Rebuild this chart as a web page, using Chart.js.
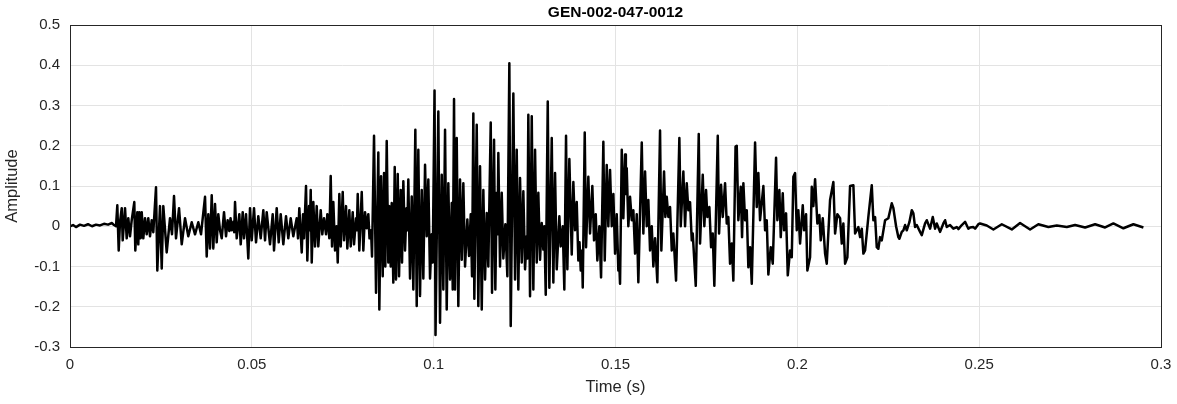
<!DOCTYPE html>
<html>
<head>
<meta charset="utf-8">
<script src="https://cdn.jsdelivr.net/npm/chart.js@4.4.1/dist/chart.umd.min.js"></script>
<style>
html,body{margin:0;padding:0;background:#fff;}
#wrap{width:1177px;height:404px;}
</style>
</head>
<body>
<div id="wrap"><canvas id="c" width="1177" height="404"></canvas></div>
<script>
// ---- data (time in seconds, amplitude) ----
const chartTitle = 'GEN-002-047-0012';
const xTickValues = [0, 0.05, 0.1, 0.15, 0.2, 0.25, 0.3];
const yTickValues = [-0.3, -0.2, -0.1, 0, 0.1, 0.2, 0.3, 0.4, 0.5];

const onsetTime = [0,0.00083,0.00165,0.00275,0.00385,0.00495,0.00605,0.00715,0.00825,0.00935,0.01045,0.01155,0.0121,
0.01265,0.01301,0.01339,0.01375,0.01422,0.01449,0.01513,0.01559,0.01603,0.0165,0.01697,0.01768,0.01796,0.01851,0.01878,0.01906,0.01944,0.01972,0.02016,0.02063,0.02109,0.02153,0.022,0.02247,0.02291,
0.02365,0.02401,0.02475,0.02522,0.02566,0.02659,0.0275,0.02805,0.0286,0.02915,0.02998,0.03072,0.03163,0.03253,0.03347,0.03438,0.03528,
0.03603,0.03644,0.03713,0.03759,0.03803,0.0385,0.03897,0.03941,0.03988,0.04034,0.04078,0.04125,0.04172,0.04235,0.0429,0.04335,0.04381,0.04415,0.04447,0.04495,0.04515,
0.04538,0.04584,0.04656,0.04694,0.04749,0.04785,0.0484,0.04903,0.0495,0.04997,0.0506,0.05115,0.05178,0.05244,0.05316,0.05363,0.05409,0.055,0.05574,0.0561,0.05684,0.05739,0.05794,0.05866,0.0594,0.06003,0.06069,0.06141,0.06234,0.0627,0.06306,
0.06372,0.06408,0.06435,0.0649,0.06526,0.06573,0.06595,0.06619,0.06647,0.06691,0.06738,0.06784,0.06828,0.06894,0.06938,0.06985,0.0704,0.07076,0.07131,0.07169,0.07205,0.07241,0.07288,0.07329,0.07362,0.07406,0.07444,0.07499,0.07535,0.0759,0.07626,0.07681,0.07719,0.07774,0.0781,0.07865,0.07887,0.07912,0.07956,0.08022,0.08066,0.08113,0.08159,0.08203,0.08236,0.08278,0.08305];
const onsetAmp = [0,0.003,-0.002,0.004,0.001,0.005,0.0,0.004,0.002,0.006,0.004,0.008,0.003,
0.0,0.052,-0.06,0.01,0.045,-0.035,0.045,-0.03,0.02,-0.025,0.015,0.06,-0.06,0.035,-0.045,0.035,-0.03,0.035,-0.03,0.02,-0.02,0.02,-0.025,0.015,-0.015,
0.097,-0.11,0.05,-0.105,0.05,-0.065,0.02,-0.02,0.075,-0.03,0.045,-0.045,0.02,-0.025,0.01,-0.02,0.01,
-0.02,0.015,0.073,-0.075,0.03,-0.055,0.077,-0.055,0.055,-0.04,0.03,-0.01,-0.03,0.035,-0.025,0.015,-0.012,0.02,-0.01,0.012,-0.015,
0.06,-0.03,0.03,-0.045,0.035,-0.03,0.03,-0.08,0.045,-0.035,0.045,-0.04,0.025,-0.03,0.04,-0.035,0.035,-0.045,0.03,-0.06,0.045,-0.04,0.03,-0.045,0.025,-0.03,0.02,-0.025,0.02,-0.03,0.045,
-0.065,0.03,-0.03,0.1,-0.085,0.05,-0.01,0.09,-0.09,0.06,-0.05,0.05,-0.05,0.04,-0.02,0.02,-0.02,0.03,-0.03,0.125,-0.05,0.06,-0.06,0.0,-0.09,0.08,-0.05,0.085,-0.035,0.05,-0.055,0.04,-0.05,0.035,-0.045,0.02,-0.01,0.08,-0.06,0.085,-0.06,0.035,-0.005,0.03,-0.03,-0.01,-0.075];

const voicedTime = [0.0836,0.08415,0.08478,0.08506,0.08553,0.08599,0.08635,0.08671,0.08709,0.08753,0.08781,0.08819,0.08847,0.08891,0.08929,0.08965,0.09012,0.09048,0.09094,0.0913,0.09166,0.09213,0.09254,0.09276,0.09303,0.0935,0.09397,0.09441,
0.09496,0.09534,0.09578,0.09625,0.09672,0.09716,0.09763,0.09809,0.09853,0.099,0.09947,0.09974,
0.10024,0.10051,0.10128,0.10175,0.10222,0.10266,0.10313,0.10359,0.10403,0.1045,0.10497,0.10524,
0.1056,0.10588,0.10634,0.10678,0.10725,0.10772,0.10816,0.10863,0.10926,0.10973,0.11019,0.11055,
0.11091,0.11118,0.11184,0.11228,0.11275,0.11322,0.11366,0.11413,0.11459,0.11503,
0.11569,0.11605,0.1166,0.11696,0.11734,0.11756,0.11778,0.11825,0.11872,0.11916,0.11971,0.12026,
0.12081,0.12119,0.12191,0.12238,0.12284,0.12328,0.12375,0.12422,0.12466,0.12513,0.12559,0.12576,
0.12603,0.1265,0.12697,0.12741,0.12788,0.12834,0.12878,0.12925,0.12972,0.13016,0.13043,0.13082,
0.13137,0.13181,0.13247,0.13291,0.13338,0.13384,0.13456,0.13494,0.13549,0.13593,
0.1364,0.13676,0.13731,0.13797,0.13841,0.13888,0.13934,0.13978,0.14011,0.14044,0.1408,0.14099,
0.14154,0.1419,0.14253,0.143,0.14363,0.1441,0.14457,0.14501,0.14556,0.14603,
0.14666,0.14704,0.14759,0.14803,0.1485,0.14897,0.14941,0.14988,0.15034,0.15078,0.15098,0.15125,
0.15172,0.15216,0.15263,0.15285,0.15309,0.15353,0.154,0.15447,0.15491,0.15538,0.15584,0.15628,
0.15722,0.15766,0.15813,0.15859,0.15903,0.1595,0.15997,0.16041,0.16088,0.16151,
0.16225,0.16261,0.16335,0.16371,0.16409,0.16453,0.165,0.16547,0.16591,0.16665,
0.16756,0.16794,0.16866,0.16913,0.16959,0.17003,0.1705,0.17097,0.17124,0.17207,
0.17289,0.17325,0.17399,0.17443,0.1749,0.17526,0.17581,0.17628,0.17674,0.17718,
0.17812,0.17848,0.17903,0.17949,0.18013,0.18059,0.18103,0.1815,0.18197,0.18241,
0.18301,0.18334,0.18378,0.18444,0.1848,0.18516,0.18563,0.18609,0.18653,0.187,0.18747,
0.18838,0.18884,0.18928,0.18975,0.19066,0.19113,0.19159,0.19203,0.19269,0.19324,
0.19415,0.19451,0.19506,0.19544,0.19599,0.19635,0.1969,0.19737,0.198,0.19847,
0.19891,0.19938,0.19984,0.20028,0.20075,0.20149,0.20185,0.2024,0.20276,0.2035,
0.20397,0.20441,0.20488,0.20551,0.20606,0.20644,0.20699,0.20763,0.20809,
0.209,0.20991,0.21038,0.21101,0.21175,0.21222,0.21266,0.21313,0.21376,
0.2145,0.21541,0.21588,0.21678,0.21725,0.21772,0.21816,0.21863,
0.21953,0.22047,0.22091,0.22138,0.22184,0.22228,0.22275,0.22322];
const voicedAmp = [0.225,-0.165,0.183,-0.207,0.124,-0.124,0.132,-0.1,0.212,-0.09,0.05,-0.1,0.058,-0.14,0.147,-0.132,0.13,-0.124,0.09,-0.09,0.112,-0.06,0.045,-0.01,0.116,-0.13,0.074,-0.157,
0.24,-0.198,0.19,-0.173,0.09,-0.13,0.153,-0.025,0.116,-0.13,-0.02,-0.09,
0.337,-0.27,0.285,-0.24,0.128,-0.157,0.24,-0.207,0.107,-0.132,0.058,-0.157,
0.316,-0.157,0.219,-0.198,0.116,-0.083,0.107,-0.1,0.017,-0.074,0.03,-0.124,
0.28,-0.18,0.252,-0.198,0.149,-0.207,0.09,-0.132,0.033,-0.1,
0.258,-0.165,0.215,-0.157,0.083,-0.02,0.182,-0.1,0.083,-0.08,0.005,-0.124,
0.405,-0.248,0.33,-0.132,0.19,-0.157,0.12,-0.09,0.087,-0.107,-0.025,-0.08,
0.277,-0.174,0.273,-0.157,0.19,-0.09,0.083,-0.083,0.008,-0.058,0.0,-0.17,
0.31,-0.153,0.219,-0.14,0.132,-0.107,0.025,-0.05,0.0,-0.157,
0.225,-0.107,0.167,-0.07,0.11,-0.01,0.06,-0.085,-0.04,-0.11,-0.06,-0.152,
0.233,-0.052,0.123,-0.018,0.1,-0.035,0.03,-0.085,0.0,-0.127,
0.21,-0.085,0.152,0.0,0.14,0.0,0.08,-0.068,0.03,-0.11,-0.08,-0.143,
0.19,0.02,0.178,0.08,0.144,0.0,0.073,0.015,0.04,-0.068,0.03,-0.139,
0.208,-0.018,0.136,0.0,0.065,-0.06,0.0,-0.1,-0.03,-0.139,
0.238,-0.06,0.136,0.023,0.073,0.023,0.048,-0.06,-0.018,-0.135,
0.219,0.0,0.136,0.0,0.107,0.04,0.06,-0.035,-0.018,-0.148,
0.229,-0.043,0.128,0.0,0.09,0.023,0.048,-0.052,-0.018,-0.148,
0.225,-0.018,0.103,0.023,0.107,0.007,0.023,-0.093,-0.043,-0.135,
0.198,0.2,0.015,0.098,-0.027,0.107,0.015,0.04,-0.102,-0.052,-0.143,
0.208,0.048,0.132,0.015,0.1,-0.01,0.015,-0.12,-0.052,-0.093,
0.17,0.015,0.09,-0.027,0.082,-0.01,0.032,-0.122,-0.06,-0.077,
0.123,0.132,-0.01,0.04,-0.043,0.052,-0.01,0.03,-0.11,-0.077,
0.098,0.05,0.117,0.007,0.028,-0.035,0.02,-0.068,-0.093,
0.065,0.11,-0.018,0.03,0.02,-0.043,0.007,-0.093,-0.077,
0.1,0.102,-0.018,-0.002,-0.027,-0.006,-0.068,-0.06,
0.023,0.102,0.015,0.023,-0.052,-0.056,-0.027,-0.035];

const decayTime = [0.22413,0.22503,0.22597,0.22641,0.22715,0.22778,0.22806,0.22872,0.22916,0.22963,0.23009,0.23081,0.23147,0.23191,0.23238,0.23284,0.23375,0.23422,0.23513,0.23559,0.2365,0.23724,0.23788,0.23834,0.23925,0.24016,0.24063,0.24109,0.242,0.24291,0.24384,0.24428,0.24522,0.24613,0.24703,0.2475,0.24841,0.24888,0.24978,0.25025,
0.25209,0.25391,0.25622,0.25897,0.26125,0.264,0.26628,0.26903,0.27134,0.27409,0.27638,0.27913,0.28188,0.28463,0.28691,0.28966,0.29241,0.29516];
const decayAmp = [0.015,0.02,0.057,0.045,0.0,-0.027,-0.031,-0.014,-0.01,0.003,-0.01,0.01,0.04,0.032,-0.002,0.003,-0.014,-0.022,0.007,0.015,-0.006,0.023,-0.006,0.007,-0.014,0.007,0.015,-0.002,0.003,-0.006,-0.002,-0.007,0.003,0.011,-0.006,-0.003,-0.002,-0.006,0.005,0.007,
0.002,-0.008,0.005,-0.008,0.008,-0.008,0.005,-0.002,0.002,-0.002,0.003,-0.003,0.005,-0.003,0.007,-0.005,0.005,-0.003];

// ---- build ----
const allTime = onsetTime.concat(voicedTime, decayTime);
const allAmp = onsetAmp.concat(voicedAmp, decayAmp);
const points = allTime.map((t, i) => ({x: t, y: allAmp[i]}));

const FONT = "'Liberation Sans', Arial, Helvetica, sans-serif";
const AXIS_COLOR = '#262626';
const fmt = v => String(Number(Number(v).toFixed(2)));

const framePlugin = {
  id: 'frame',
  afterDraw(chart) {
    const {ctx, chartArea: a} = chart;
    ctx.save();
    ctx.strokeStyle = AXIS_COLOR;
    ctx.lineWidth = 1;
    ctx.strokeRect(Math.round(a.left) + 0.5, Math.round(a.top) + 0.5, Math.round(a.right - a.left), Math.round(a.bottom - a.top));
    ctx.restore();
  }
};

new Chart(document.getElementById('c'), {
  type: 'line',
  data: {
    datasets: [{
      data: points,
      borderColor: '#000000',
      borderWidth: 2.5,
      pointRadius: 0,
      tension: 0,
      fill: false,
      borderJoinStyle: 'round'
    }]
  },
  options: {
    responsive: false,
    animation: false,
    devicePixelRatio: 1,
    parsing: false,
    layout: {padding: {left: 0, right: 16, top: 0, bottom: 0}},
    plugins: {
      legend: {display: false},
      tooltip: {enabled: false},
      title: {
        display: true,
        fullSize: false,
        text: chartTitle,
        color: '#000',
        font: {family: FONT, size: 15.5, weight: 'bold', lineHeight: 1.2},
        padding: {top: 3, bottom: 3.4}
      }
    },
    scales: {
      x: {
        type: 'linear',
        min: 0, max: 0.3,
        afterBuildTicks: s => { s.ticks = xTickValues.map(v => ({value: v})); },
        afterFit: s => { s.height = 57; s.paddingLeft = 0; s.paddingRight = 0; },
        grid: {color: '#e3e3e3', drawTicks: false, lineWidth: 1},
        border: {display: false},
        ticks: {color: AXIS_COLOR, font: {family: FONT, size: 15}, padding: 9, maxRotation: 0, callback: v => fmt(v)},
        title: {display: true, text: 'Time (s)', color: AXIS_COLOR, font: {family: FONT, size: 16.5}, padding: {top: 0, bottom: 7}}
      },
      y: {
        type: 'linear',
        min: -0.3, max: 0.5,
        afterBuildTicks: s => { s.ticks = yTickValues.map(v => ({value: v})); },
        afterFit: s => { s.width = 70; s.paddingTop = 0; s.paddingBottom = 0; },
        grid: {color: '#e3e3e3', drawTicks: false, lineWidth: 1},
        border: {display: false},
        ticks: {color: AXIS_COLOR, font: {family: FONT, size: 15}, padding: 10, callback: v => fmt(v)},
        title: {display: true, text: 'Amplitude', color: AXIS_COLOR, font: {family: FONT, size: 16.5}, padding: {top: 3, bottom: 0}}
      }
    }
  },
  plugins: [framePlugin]
});
</script>
</body>
</html>
